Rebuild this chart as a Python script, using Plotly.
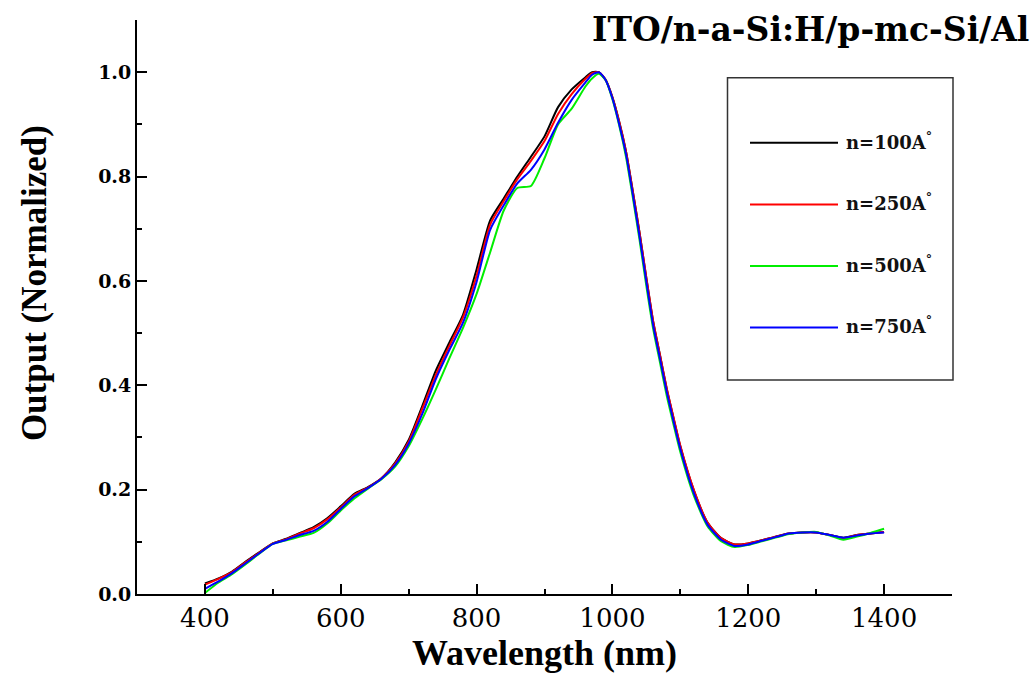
import plotly.graph_objects as go

# ---------------- data ----------------
wavelength = [400, 420, 440, 460, 480, 500, 520, 540, 560, 580, 600, 620, 640, 660, 680,
              700, 720, 740, 760, 780, 800, 820, 840, 860, 880, 900, 920, 940, 960,
              970, 980, 990, 1000, 1010, 1020, 1030, 1040, 1050, 1060, 1070, 1080, 1090, 1100,
              1120, 1140, 1160, 1180, 1200, 1220, 1240, 1260, 1280, 1300, 1320, 1340, 1360, 1380, 1400]

n100 = [0.020, 0.030, 0.043, 0.062, 0.080, 0.097, 0.106, 0.117, 0.128, 0.145, 0.168, 0.192, 0.205, 0.222, 0.252,
        0.295, 0.360, 0.428, 0.482, 0.535, 0.622, 0.716, 0.758, 0.800, 0.838, 0.877, 0.933, 0.967, 0.990,
        1.000, 1.000, 0.985, 0.952, 0.905, 0.848, 0.772, 0.692, 0.605, 0.522, 0.458, 0.393, 0.337, 0.283,
        0.198, 0.137, 0.107, 0.095, 0.097, 0.103, 0.110, 0.116, 0.118, 0.118, 0.113, 0.108, 0.113, 0.116, 0.119]

n250 = [0.018, 0.029, 0.042, 0.061, 0.079, 0.097, 0.105, 0.116, 0.126, 0.143, 0.166, 0.190, 0.204, 0.222, 0.250,
        0.292, 0.355, 0.420, 0.476, 0.530, 0.610, 0.708, 0.753, 0.795, 0.830, 0.868, 0.920, 0.958, 0.987,
        0.998, 1.000, 0.986, 0.952, 0.905, 0.848, 0.772, 0.692, 0.606, 0.523, 0.458, 0.394, 0.338, 0.284,
        0.199, 0.137, 0.107, 0.095, 0.097, 0.103, 0.110, 0.116, 0.118, 0.118, 0.113, 0.107, 0.113, 0.116, 0.119]

n500 = [0.002, 0.022, 0.038, 0.057, 0.077, 0.096, 0.103, 0.110, 0.117, 0.135, 0.160, 0.183, 0.202, 0.220, 0.244,
        0.283, 0.335, 0.392, 0.452, 0.510, 0.575, 0.655, 0.735, 0.778, 0.782, 0.835, 0.900, 0.930, 0.972,
        0.988, 0.997, 0.985, 0.948, 0.898, 0.838, 0.760, 0.678, 0.590, 0.508, 0.444, 0.380, 0.325, 0.272,
        0.188, 0.130, 0.101, 0.090, 0.094, 0.101, 0.108, 0.115, 0.118, 0.119, 0.112, 0.104, 0.110, 0.117, 0.125]

n750 = [0.010, 0.024, 0.040, 0.059, 0.078, 0.096, 0.104, 0.113, 0.121, 0.138, 0.163, 0.187, 0.203, 0.221, 0.247,
        0.288, 0.345, 0.412, 0.468, 0.520, 0.598, 0.698, 0.745, 0.787, 0.813, 0.852, 0.903, 0.947, 0.980,
        0.995, 1.000, 0.985, 0.950, 0.900, 0.843, 0.766, 0.685, 0.598, 0.515, 0.451, 0.387, 0.331, 0.278,
        0.193, 0.133, 0.104, 0.092, 0.095, 0.102, 0.109, 0.116, 0.118, 0.118, 0.113, 0.108, 0.112, 0.116, 0.118]

series = [n100, n250, n500, n750]
labels = ["n=100A<sup>°</sup>", "n=250A<sup>°</sup>", "n=500A<sup>°</sup>", "n=750A<sup>°</sup>"]
colors = ["#000000", "#ff0000", "#00ee00", "#0000ff"]

x_ticks = [400, 600, 800, 1000, 1200, 1400]
y_ticks = [0.0, 0.2, 0.4, 0.6, 0.8, 1.0]
title_text = "ITO/n-a-Si:H/p-mc-Si/Al"

# ---------------- figure ----------------
fig = go.Figure()
for ys, lab, col in zip(series, labels, colors):
    fig.add_trace(go.Scatter(x=wavelength, y=ys, mode="lines", name=lab,
                             line=dict(color=col, width=2, shape="spline", smoothing=0.6),
                             showlegend=False))

# manual legend (box, line samples, labels)
L, R, T, B = 137, 952, 19.8, 594
W, H = R - L, B - T
def px(v):
    return (v - L) / W
def py(v):
    return (B - v) / H

shapes = [dict(type="rect", xref="paper", yref="paper",
               x0=px(727.5), x1=px(953), y0=py(380), y1=py(77.5),
               line=dict(color="#333333", width=1.5), fillcolor="rgba(0,0,0,0)")]
annotations = []
entry_y = [142.7, 204.3, 266, 327.3]
for ey, lab, col in zip(entry_y, labels, colors):
    shapes.append(dict(type="line", xref="paper", yref="paper",
                       x0=px(750), x1=px(838), y0=py(ey), y1=py(ey),
                       line=dict(color=col, width=2)))
    annotations.append(dict(xref="paper", yref="paper", x=px(844), y=py(ey - 2),
                            xanchor="left", yanchor="middle", showarrow=False, text="<b>" + lab + "</b>",
                            font=dict(family="DejaVu Serif", size=18, color="#111111")))

annotations.append(dict(xref="paper", yref="paper", x=px(1031), y=py(29),
                        xanchor="right", yanchor="middle", showarrow=False,
                        text="<b>" + title_text + "</b>",
                        font=dict(family="DejaVu Serif", size=33, color="#000000")))
annotations.append(dict(xref="paper", yref="paper", x=px(34), y=py(283),
                        xanchor="center", yanchor="middle", showarrow=False, textangle=-90,
                        text="<b>Output (Normalized)</b>",
                        font=dict(family="Liberation Serif", size=35, color="#000000")))

fig.update_layout(
    width=1034, height=677,
    margin=dict(l=L, r=1034 - R, t=T, b=677 - B),
    paper_bgcolor="white", plot_bgcolor="white",
    shapes=shapes, annotations=annotations,
    xaxis=dict(range=[300, 1500], tickvals=x_ticks, ticktext=[str(v) for v in x_ticks],
               showline=True, linecolor="black", linewidth=2,
               ticks="inside", ticklen=10, tickwidth=2, tickcolor="black",
               minor=dict(ticks="inside", ticklen=5, tickwidth=2, tickcolor="black", dtick=100, tick0=300),
               showgrid=False, zeroline=False,
               tickfont=dict(family="DejaVu Serif", size=26, color="#000000"),
               title=dict(text="<b>Wavelength (nm)</b>", standoff=4,
                          font=dict(family="Liberation Serif", size=36, color="#000000"))),
    yaxis=dict(range=[0, 1.1], tickvals=y_ticks, ticktext=["%.1f" % v for v in y_ticks],
               showline=True, linecolor="black", linewidth=2,
               ticks="inside", ticklen=10, tickwidth=2, tickcolor="black",
               minor=dict(ticks="inside", ticklen=5, tickwidth=2, tickcolor="black", dtick=0.1, tick0=0),
               showgrid=False, zeroline=False,
               tickfont=dict(family="DejaVu Serif", size=19, color="#000000", weight="bold")),
)

fig.write_html("out.html")
